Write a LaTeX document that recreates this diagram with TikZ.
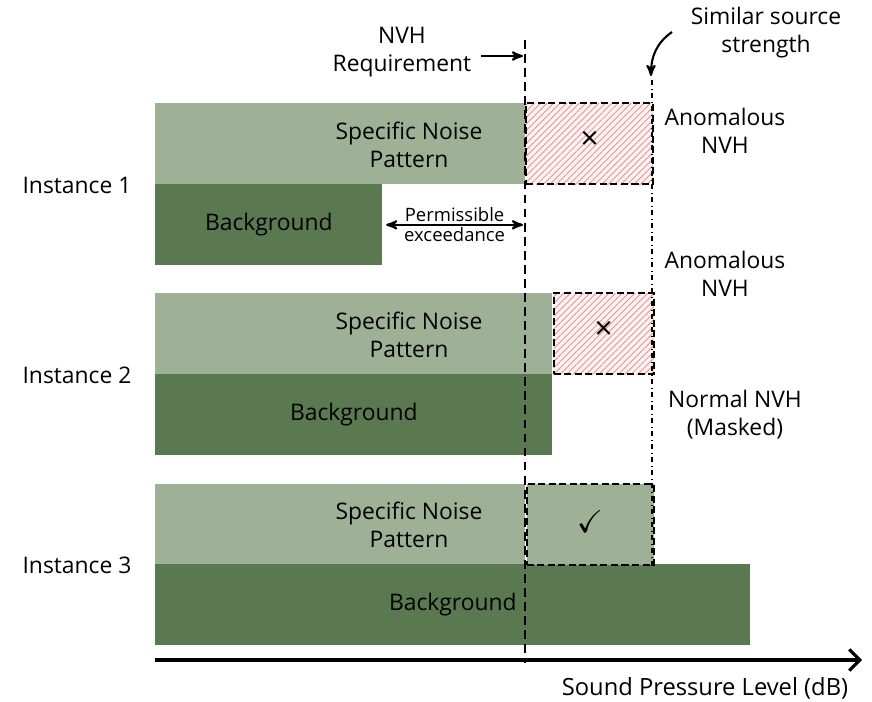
\documentclass[tikz,border=0pt]{standalone}
\usepackage{fontspec}
\setmainfont{Open Sans}
\usepackage{amssymb}
\usetikzlibrary{shapes.geometric, arrows, arrows.meta, patterns.meta, positioning}
\definecolor{nvhLightGreen}{RGB}{158, 176, 149}
\definecolor{nvhDarkGreen}{RGB}{90, 121, 80}
\definecolor{nvhHatchRed}{RGB}{226, 150, 150}
\definecolor{nvhHatchFill}{RGB}{253, 241, 241}

\begin{document}
\begin{tikzpicture}[x=0.02cm, y=-0.02cm, node distance=1.6cm, auto, font=\fontsize{13}{16}\selectfont]
    \tikzstyle{lightbar} = [rectangle, fill=nvhLightGreen, anchor=north west, minimum height=1.62cm, inner sep=0pt]
    \tikzstyle{darkbar} = [rectangle, fill=nvhDarkGreen, anchor=north west, minimum height=1.62cm, inner sep=0pt]
    \tikzstyle{excess} = [rectangle, draw, dash pattern=on 4pt off 2pt, line width=1.1pt, minimum height=1.62cm, inner sep=0pt, font=\fontsize{18}{18}\selectfont]
    \tikzstyle{hatched} = [excess, preaction={fill=nvhHatchFill}, pattern={Lines[angle=45, distance=2.6pt, line width=0.5pt]}, pattern color=nvhHatchRed]
    \tikzstyle{label} = [align=center]
    \tikzstyle{line} = [draw, -stealth', line width=1.2pt]

    \useasboundingbox (0,0) rectangle (872,702);

    % instance 1
    \node [lightbar, minimum width=7.4cm] (sn1) at (155,103) {};
    \node [darkbar, minimum width=4.54cm] (bg1) at (155,184) {Background};
    \node [hatched, minimum width=2.54cm, right=0pt of sn1] (ex1) {\raisebox{4pt}{×}};
    \node [label] (snt1) at (409,145) {Specific Noise\\Pattern};
    \node (inst1) at (77,185) {Instance 1};

    % instance 2
    \node [lightbar, minimum width=7.94cm] (sn2) at (155,293) {};
    \node [darkbar, minimum width=7.94cm] (bg2) at (155,374) {Background};
    \node [hatched, minimum width=2.0cm, right=0pt of sn2] (ex2) {\raisebox{4pt}{×}};
    \node [label] (snt2) at (409,335) {Specific Noise\\Pattern};
    \node (inst2) at (77,375) {Instance 2};

    % instance 3
    \node [lightbar, minimum width=7.4cm] (sn3) at (155,484) {};
    \node [darkbar, minimum width=11.9cm] (bg3) at (155,564) {Background};
    \node [excess, fill=nvhLightGreen, minimum width=2.54cm, right=0pt of sn3] (ex3) {\raisebox{4pt}{$\checkmark$}};
    \node [label] (snt3) at (409,525) {Specific Noise\\Pattern};
    \node (inst3) at (77,565) {Instance 3};

    % limits
    \coordinate (reqtop) at (525,40);
    \coordinate (reqbot) at (525,663);
    \coordinate (simtop) at (652,80);
    \coordinate (simbot) at (652,566);
    \draw [dash pattern=on 5pt off 3pt, line width=0.6pt] (reqtop) -- (reqbot);
    \draw [dash dot, line width=0.6pt] (simtop) -- (simbot);

    \node [label] (reqlabel) at (402,52) {NVH\\Requirement};
    \coordinate (reqarrow) at (523,56);
    \path [line] ([xshift=2pt]reqlabel.east |- reqarrow) -- (reqarrow);

    \node [label] (simlabel) at (766,33) {Similar source\\strength};
    \coordinate (simstart) at (672,32);
    \coordinate (simarrow) at (651,76);
    \path [line] (simstart) to[out=215, in=90] (simarrow);

    \path [line, stealth'-stealth'] ([xshift=2pt]bg1.east) -- (bg1.east -| reqarrow)
        node [midway, above, inner sep=1pt, font=\fontsize{10.5}{12}\selectfont] (permtop) {Permissible}
        node [midway, below, inner sep=1pt, font=\fontsize{10.5}{12}\selectfont] (permbot) {exceedance};

    % outcomes
    \node [label] (anom1) at (725,131) {Anomalous\\NVH};
    \node [label] (anom2) at (725,274) {Anomalous\\NVH};
    \node [label] (normal) at (735,415) {Normal NVH\\(Masked)};

    % axis
    \coordinate (axstart) at (155,660);
    \coordinate (axend) at (862,660);
    \draw [line width=1.8pt, -{Straight Barb[length=6pt, width=12pt]}] (axstart) -- (axend);
    \node [font=\fontsize{13.5}{16}\selectfont] (axlabel) at (705,688) {Sound Pressure Level (dB)};
\end{tikzpicture}
\end{document}
